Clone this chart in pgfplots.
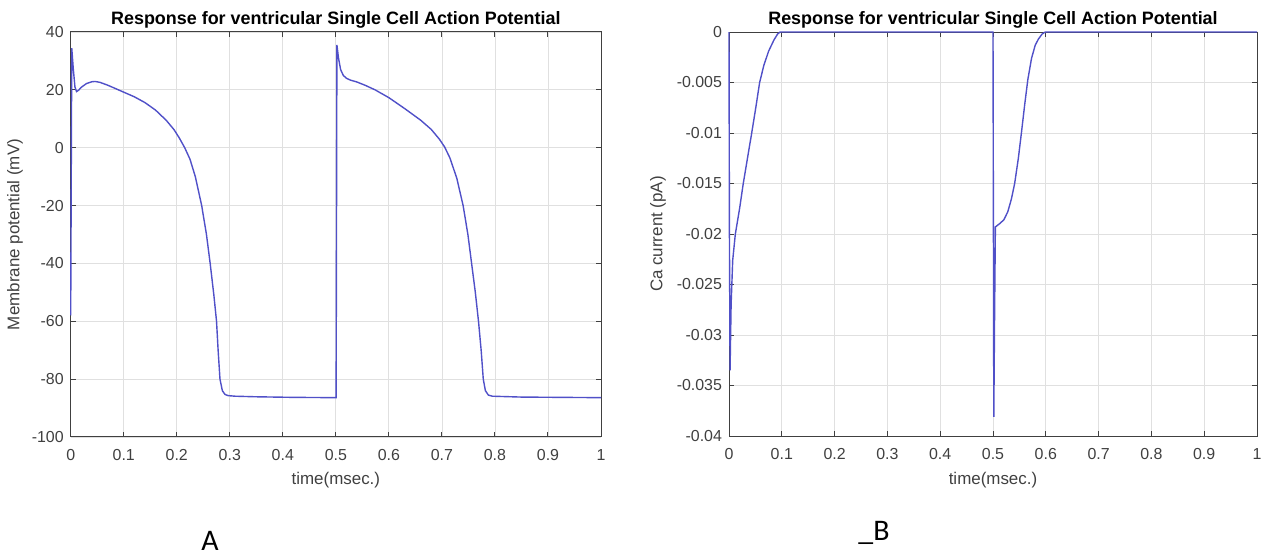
\documentclass[border=0pt]{standalone}
\usepackage{pgfplots}
\pgfplotsset{compat=1.18}
\usepackage{fontspec}
\setmainfont{Liberation Sans}
\newfontfamily\calib{Carlito}
\definecolor{lineblue}{RGB}{80,80,200}
\definecolor{axgray}{gray}{0.25}
\definecolor{gridgray}{gray}{0.88}
\pgfplotsset{
  matlab/.style={
    scale only axis,
    scaled ticks=false,
    xmin=0, xmax=1,
    xtick={0,0.1,0.2,0.3,0.4,0.5,0.6,0.7,0.8,0.9,1},
    xticklabels={0,0.1,0.2,0.3,0.4,0.5,0.6,0.7,0.8,0.9,1},
    grid=major,
    major grid style={gridgray, line width=0.4bp},
    axis line style={axgray, line width=0.5bp},
    tick style={axgray, line width=0.5bp},
    major tick length=2.5bp,
    tick align=inside,
    xtick pos=both, ytick pos=both,
    ticklabel style={font=\fontsize{8}{9}\selectfont, text=axgray},
    xticklabel style={yshift=-2.5bp},
    label style={font=\fontsize{8.5}{10}\selectfont, text=axgray},
    title style={font=\fontsize{9}{11}\selectfont\bfseries, text=black, at={(0.5,1)}, anchor=center},
    title={Response for ventricular Single Cell Action Potential},
    xlabel={time(msec.)},
    clip=false,
  }
}
\begin{document}
\begin{tikzpicture}
\useasboundingbox (0,0) rectangle (632bp,278.5bp);
\begin{axis}[matlab,
  at={(35.35bp,60bp)}, anchor=south west,
  width=265.15bp, height=202.5bp,
  ymin=-100, ymax=40,
  ytick={-100,-80,-60,-40,-20,0,20,40},
  yticklabels={-100,-80,-60,-40,-20,0,20,40},
  ylabel={Membrane potential (mV)},
  ylabel style={at={(axis description cs:-0.105,0.5)}, anchor=center},
  xlabel style={at={(axis description cs:0.5,-0.106)}, anchor=center},
]
\addplot[lineblue, line width=0.7bp] coordinates {
(0,-58) (0.002,34.4) (0.005,27) (0.008,21) (0.011,19.4) (0.015,19.9)
(0.02,20.9) (0.03,22.2) (0.04,22.8) (0.046,22.9) (0.055,22.6) (0.07,21.6)
(0.085,20.4) (0.1,19.2) (0.12,17.6) (0.14,15.6) (0.16,13) (0.18,9.5)
(0.195,6.2) (0.205,3.3) (0.215,0) (0.225,-4) (0.235,-10) (0.247,-20)
(0.256,-30) (0.263,-40) (0.27,-51) (0.275,-60) (0.278,-70) (0.2815,-80)
(0.286,-84) (0.291,-85.3) (0.297,-85.7) (0.31,-85.9) (0.35,-86.1) (0.42,-86.3)
(0.5,-86.4) (0.5005,-86.4) (0.502,35.5) (0.505,31) (0.509,27) (0.514,25)
(0.52,24) (0.527,23.4) (0.54,22.7) (0.555,21.6) (0.574,20) (0.6,17.3)
(0.63,13.5) (0.66,9.5) (0.68,6.3) (0.695,3) (0.705,0.3) (0.715,-3.5)
(0.728,-10.5) (0.74,-20) (0.749,-30) (0.756,-40) (0.763,-50) (0.769,-60)
(0.774,-70) (0.778,-80) (0.782,-84) (0.7875,-85.5) (0.795,-85.9) (0.85,-86.2)
(1,-86.4)
};
\end{axis}
\begin{axis}[matlab,
  at={(364.5bp,60.5bp)}, anchor=south west,
  width=264bp, height=202bp,
  ymin=-0.04, ymax=0,
  ytick={-0.04,-0.035,-0.03,-0.025,-0.02,-0.015,-0.01,-0.005,0},
  yticklabels={-0.04,-0.035,-0.03,-0.025,-0.02,-0.015,-0.01,-0.005,0},
  ylabel={Ca current (pA)},
  ylabel style={at={(axis description cs:-0.1345,0.5)}, anchor=center},
  xlabel style={at={(axis description cs:0.5,-0.109)}, anchor=center},
]
\addplot[lineblue, line width=0.7bp] coordinates {
(0,0) (0.0008,-0.02) (0.002,-0.0335) (0.004,-0.027) (0.007,-0.0226)
(0.012,-0.02) (0.02,-0.0175) (0.027,-0.015) (0.035,-0.0125) (0.043,-0.01)
(0.051,-0.0074) (0.058,-0.005) (0.066,-0.0033) (0.075,-0.0019) (0.085,-0.0008)
(0.092,-0.0002) (0.097,0) (0.5,0) (0.5008,-0.02) (0.5015,-0.0381)
(0.503,-0.028) (0.5045,-0.0193) (0.512,-0.019) (0.5205,-0.0186) (0.528,-0.0178)
(0.535,-0.0165) (0.541,-0.015) (0.548,-0.0125) (0.554,-0.0099) (0.56,-0.0072)
(0.566,-0.0047) (0.573,-0.0026) (0.58,-0.0013) (0.586,-0.0007) (0.593,-0.0002)
(0.599,0) (1,0)
};
\end{axis}
\node[font=\calib\fontsize{15}{16}\selectfont, anchor=center] at (105bp,8bp) {A};
\node[font=\calib\fontsize{15}{16}\selectfont, anchor=center] at (437bp,12bp) {\_B};
\end{tikzpicture}
\end{document}
